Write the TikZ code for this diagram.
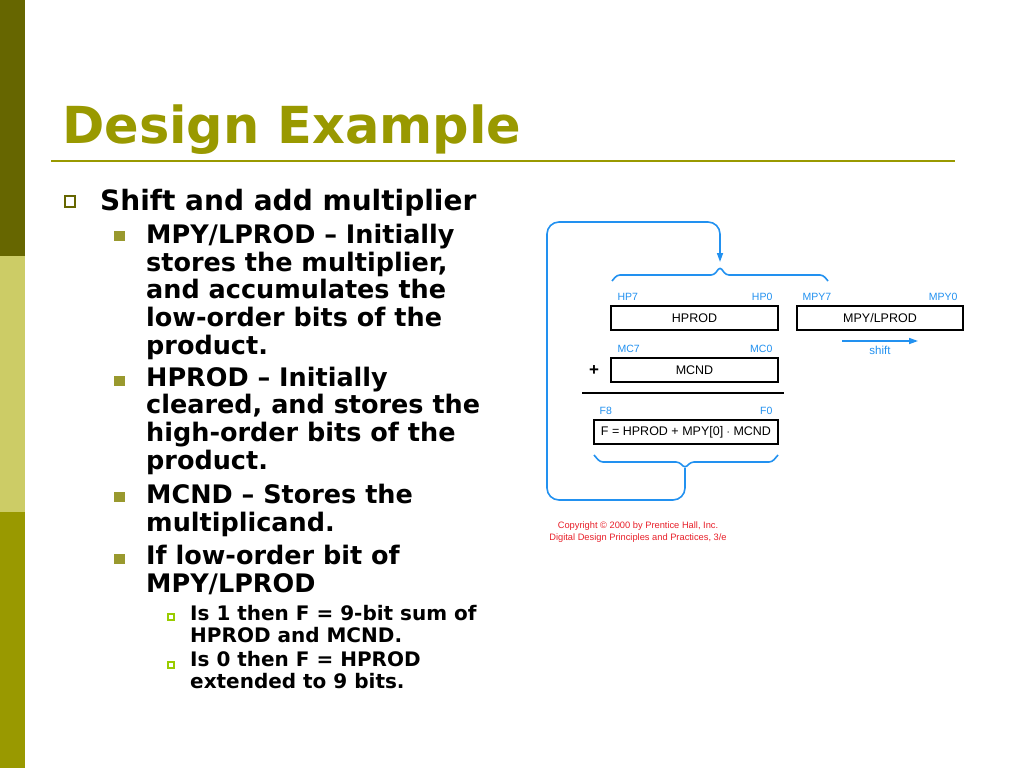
\documentclass[tikz,border=0pt]{standalone}
\usepackage{fontspec}
\setmainfont{DejaVu Sans}
\newfontfamily\figfont{Liberation Sans}
\usetikzlibrary{positioning,arrows.meta}

\definecolor{olivedark}{HTML}{666600}
\definecolor{olivelight}{HTML}{CCCC66}
\definecolor{olivemid}{HTML}{999900}
\definecolor{olivebullet}{HTML}{99992E}
\definecolor{limebullet}{HTML}{99CC00}
\definecolor{figblue}{HTML}{2291F0}
\definecolor{figred}{HTML}{E8202A}

\tikzset{
	slidepicture/.style = {
		x = 1pt,
		y = -1pt,
		inner sep = 0pt,
		blueline/.style = {
			draw = figblue,
			line width = 1.6pt,
			rounded corners = 3pt
		},
		bluearrow/.style = {
			blueline,
			-{Triangle[length=9pt, width=6pt]}
		}
	},
	title/.style = {
		text = olivemid,
		font = \fontsize{51}{60}\selectfont\bfseries,
		anchor = base west
	},
	item/.style = {
		align = left,
		anchor = base west,
		font = \fontsize{28}{30}\selectfont\bfseries
	},
	subitem/.style = {
		align = left,
		anchor = base west,
		font = \fontsize{25.5}{27.6}\selectfont\bfseries
	},
	subsubitem/.style = {
		align = left,
		anchor = base west,
		font = \fontsize{20}{21.5}\selectfont\bfseries
	},
	bullet1/.style = {
		draw = olivedark,
		line width = 2.4pt,
		minimum size = 10.5pt
	},
	bullet2/.style = {
		fill = olivebullet,
		minimum width = 11pt,
		minimum height = 9.5pt
	},
	bullet3/.style = {
		draw = limebullet,
		line width = 1.6pt,
		minimum size = 6.5pt
	},
	regbox/.style = {
		draw,
		line width = 1.2pt,
		minimum height = 24pt,
		font = \figfont\fontsize{12.5}{14}\selectfont
	},
	bitlabel/.style = {
		text = figblue,
		inner sep = 1pt,
		font = \figfont\fontsize{10.5}{12}\selectfont
	},
	copyright/.style = {
		text = figred,
		align = center,
		font = \figfont\fontsize{9.3}{12}\selectfont
	}
}

\begin{document}
\begin{tikzpicture}[slidepicture]
	\useasboundingbox (0,0) rectangle (1024,768);
	\fill[white] (0,0) rectangle (1024,768);
	\fill[olivedark] (0,0) rectangle (25,256);
	\fill[olivelight] (0,256) rectangle (25,512);
	\fill[olivemid] (0,512) rectangle (25,768);

	\node[title] (title) at (62,143) {Design Example};
	\draw[olivemid, line width = 2pt] (51,161) -- (955,161);

	\node[bullet1] (b1) at (70,201.5) {};
	\node[item] (shift) at (100,210) {Shift and add multiplier};

	\node[bullet2] (b2) at (119.5,236) {};
	\node[subitem] (mpy) at (146,354) {MPY/LPROD – Initially\\stores the multiplier,\\and accumulates the\\low-order bits of the\\product.};
	\node[bullet2] (b3) at (119.5,381) {};
	\node[subitem] (hprod) at (146,469) {HPROD – Initially\\cleared, and stores the\\high-order bits of the\\product.};
	\node[bullet2] (b4) at (119.5,497) {};
	\node[subitem] (mcnd) at (146,531) {MCND – Stores the\\multiplicand.};
	\node[bullet2] (b5) at (119.5,559) {};
	\node[subitem] (iflow) at (146,592) {If low-order bit of\\MPY/LPROD};

	\node[bullet3] (b6) at (171,617) {};
	\node[subsubitem] (is1) at (190,642) {Is 1 then F = 9-bit sum of\\HPROD and MCND.};
	\node[bullet3] (b7) at (171,665) {};
	\node[subsubitem] (is0) at (190,688) {Is 0 then F = HPROD\\extended to 9 bits.};

	\node[regbox, minimum width = 167pt] (hreg) at (694.5,318) {HPROD};
	\node[regbox, minimum width = 166pt] (lreg) at (880,318) {MPY/LPROD};
	\node[regbox, minimum width = 167pt] (mreg) at (694.5,370) {MCND};
	\node[regbox, minimum width = 184pt] (freg) at (686,432) {F = HPROD + MPY[0] $\cdot$ MCND};

	\node[bitlabel, above right = 4pt and 6pt of hreg.north west] (hp7) {HP7};
	\node[bitlabel, above left = 4pt and 5pt of hreg.north east] (hp0) {HP0};
	\node[bitlabel, above right = 4pt and 5pt of lreg.north west] (mpy7) {MPY7};
	\node[bitlabel, above left = 4pt and 5pt of lreg.north east] (mpy0) {MPY0};
	\node[bitlabel, above right = 4pt and 6pt of mreg.north west] (mc7) {MC7};
	\node[bitlabel, above left = 4pt and 5pt of mreg.north east] (mc0) {MC0};
	\node[bitlabel, above right = 4pt and 5pt of freg.north west] (f8) {F8};
	\node[bitlabel, above left = 4pt and 5pt of freg.north east] (f0) {F0};

	\node[font = \figfont\fontsize{17}{18}\selectfont\bfseries] (plus) at (594,371) {+};
	\draw[line width = 1.8pt] (582,393) -- (784,393);

	\coordinate (htip) at (720,267);
	\coordinate (hin) at (720,262);
	\coordinate (ftip) at (685,468);
	\coordinate (sl) at (842,341);
	\coordinate (sr) at (918,341);
	\node[bitlabel, font = \figfont\fontsize{11.5}{12}\selectfont, below = 4pt of sl, xshift = 38pt] (shiftlbl) {shift};

	\begin{scope}[every path/.style = blueline]
		\path (612,281) -- (617,275) -- (714,275) -- (htip) -- (726,275) -- (823,275) -- (828,281);
		\path (594,455) -- (600,462) -- (679,462) -- (ftip) -- (691,462) -- (772,462) -- (778,455);
		\path[bluearrow, rounded corners = 12pt] (ftip) |- (547,500) |- (720,222) -- (hin);
		\path[bluearrow, rounded corners = 0pt] (sl) -- (sr);
	\end{scope}

	\node[copyright] (copy) at (638,532) {Copyright © 2000 by Prentice Hall, Inc.\\Digital Design Principles and Practices, 3/e};
\end{tikzpicture}
\end{document}
